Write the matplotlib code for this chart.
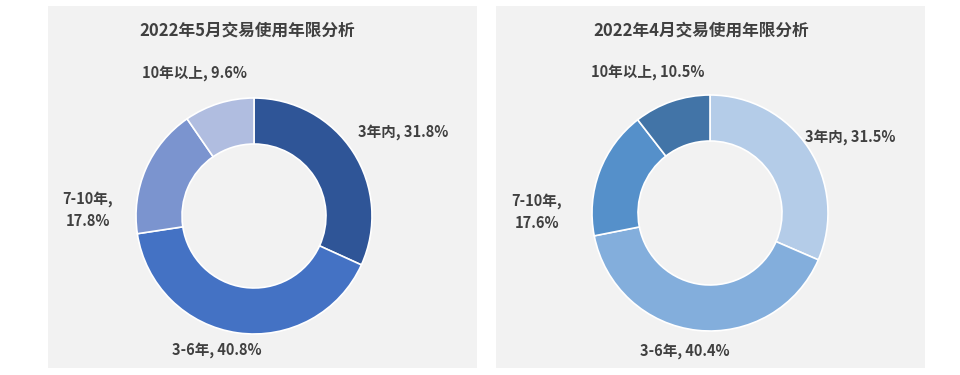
import matplotlib.pyplot as plt

plt.rcParams['font.family'] = ['Noto Sans CJK SC', 'DejaVu Sans']

categories = ["3年内", "3-6年", "7-10年", "10年以上"]
may_values = [31.8, 40.8, 17.8, 9.6]
apr_values = [31.5, 40.4, 17.6, 10.5]
titles = ["2022年5月交易使用年限分析", "2022年4月交易使用年限分析"]

may_colors = ["#2F5597", "#4472C4", "#7B94CF", "#B0BDE0"]
apr_colors = ["#B4CCE8", "#83AEDC", "#5590CA", "#4274A7"]

text_color = "#404040"
panel_bg = "#F2F2F2"

# label offsets from donut centre in pixels (x right, y up)
may_label_pos = [(149, 84), (-37, -134), (-166, 6), (-59, 143)]
apr_label_pos = [(140, 76), (-25, -138), (-173, 1), (-62, 141)]


def label_text(cat, val):
    if cat == "7-10年":
        return f"{cat},\n{val}%"
    return f"{cat}, {val}%"


fig = plt.figure(figsize=(9.6, 3.75), dpi=100)
fig.patch.set_facecolor("white")

W, H = 960, 375
panels = [
    (48, 7, 429, 362, (206, 152), may_values, may_colors, may_label_pos, titles[0], 199),
    (496, 7, 429, 362, (214, 155), apr_values, apr_colors, apr_label_pos, titles[1], 205),
]

for left, bottom, w, h, center, values, colors, lpos, title, tx in panels:
    ax = fig.add_axes([left / W, bottom / H, w / W, h / H])
    ax.set_facecolor(panel_bg)
    ax.set_xlim(0, w)
    ax.set_ylim(0, h)
    ax.set_aspect("equal", adjustable="box")
    for s in ax.spines.values():
        s.set_visible(False)
    ax.set_xticks([])
    ax.set_yticks([])

    ax.pie(values, colors=colors, startangle=90, counterclock=False,
           center=center, radius=118, frame=True,
           wedgeprops=dict(width=118 * 0.39, edgecolor="white", linewidth=1.2))
    ax.set_xlim(0, w)
    ax.set_ylim(0, h)

    for cat, val, (dx, dy) in zip(categories, values, lpos):
        ax.text(center[0] + dx, center[1] + dy, label_text(cat, val),
                ha="center", va="center", fontsize=10.5, fontweight="bold",
                color=text_color, linespacing=1.5)

    ax.text(tx, h - 24, title, ha="center", va="center",
            fontsize=12, fontweight="bold", color=text_color)

fig.savefig("out.png", dpi=100, facecolor="white")
